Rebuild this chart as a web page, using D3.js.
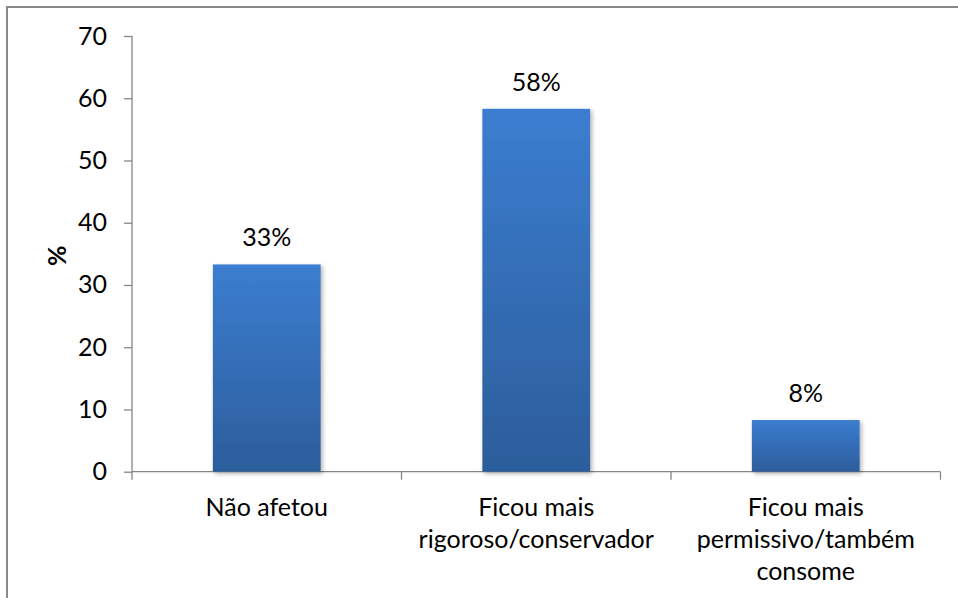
<!DOCTYPE html>
<html>
<head>
<meta charset="utf-8">
<script src="https://cdn.jsdelivr.net/npm/d3@7"></script>
<style>
  body { margin: 0; background: #fff; }
  text { font-family: Lato, "Open Sans", sans-serif; fill: #000; }
</style>
</head>
<body>
<div id="chart"></div>
<script>
var categories = [["Não afetou"], ["Ficou mais", "rigoroso/conservador"], ["Ficou mais", "permissivo/também", "consome"]];
var values = [33.3, 58.3, 8.3];
var valueLabels = ["33%", "58%", "8%"];
var yTicks = [0, 10, 20, 30, 40, 50, 60, 70];

var width = 958, height = 598;
var margin = { top: 36, left: 132, right: 17.5, bottom: 126.3 };
var fontSize = '25px';

var svg = d3.select('#chart')
    .append('svg')
    .attr('width', width)
    .attr('height', height);

var defs = svg.append('defs');
var grad = defs.append('linearGradient')
    .attr('id', 'barGrad')
    .attr('x1', 0).attr('y1', 0).attr('x2', 0).attr('y2', 1);
grad.append('stop').attr('offset', '0%').attr('stop-color', '#3b7dd0');
grad.append('stop').attr('offset', '100%').attr('stop-color', '#2c5d9b');

var shadow = defs.append('filter').attr('id', 'shadow')
    .attr('x', '-10%').attr('y', '-10%').attr('width', '130%').attr('height', '130%');
shadow.append('feDropShadow')
    .attr('dx', 2).attr('dy', 2).attr('stdDeviation', 2)
    .attr('flood-color', '#000').attr('flood-opacity', 0.3);

// outer frame (runs past the canvas on right/bottom)
svg.append('rect')
    .attr('x', 7).attr('y', 7)
    .attr('width', 1000).attr('height', 1000)
    .attr('fill', 'none')
    .attr('stroke', '#888')
    .attr('stroke-width', 2);

var x0 = margin.left, x1 = width - margin.right;
var yBottom = height - margin.bottom;

var xScale = d3.scaleBand()
    .domain(d3.range(categories.length))
    .range([x0, x1])
    .paddingInner(0.6)
    .paddingOuter(0.3);

var yScale = d3.scaleLinear()
    .domain([0, 70])
    .range([yBottom, margin.top]);

// y axis
var yAxis = d3.axisLeft(yScale)
    .tickValues(yTicks)
    .tickSize(8)
    .tickPadding(17)
    .tickFormat(d3.format('d'));

var gy = svg.append('g')
    .attr('transform', 'translate(' + x0 + ',0)')
    .call(yAxis);
gy.select('.domain').attr('stroke', '#868686').attr('stroke-width', 1.3)
    .attr('d', 'M0,' + margin.top + 'V' + yBottom);
gy.selectAll('.tick line').attr('stroke', '#868686').attr('stroke-width', 1.3);
gy.selectAll('.tick text')
    .style('font-size', fontSize)
    .style('font-family', 'Lato, sans-serif')
    .attr('fill', '#000');

// x axis line + category ticks
var boundaries = d3.range(categories.length + 1).map(function(i) {
    return x0 + i * (x1 - x0) / categories.length;
});
svg.append('line')
    .attr('x1', x0).attr('x2', x1)
    .attr('y1', yBottom).attr('y2', yBottom)
    .attr('stroke', '#868686').attr('stroke-width', 1.3);
svg.selectAll('.xtick')
    .data(boundaries)
    .enter()
    .append('line')
    .attr('class', 'xtick')
    .attr('x1', function(d) { return d; })
    .attr('x2', function(d) { return d; })
    .attr('y1', yBottom)
    .attr('y2', yBottom + 8)
    .attr('stroke', '#868686').attr('stroke-width', 1.3);

// bars
svg.selectAll('.bar')
    .data(values)
    .enter()
    .append('rect')
    .attr('class', 'bar')
    .attr('x', function(d, i) { return xScale(i); })
    .attr('y', function(d) { return yScale(d); })
    .attr('width', xScale.bandwidth())
    .attr('height', function(d) { return yBottom - yScale(d); })
    .attr('fill', 'url(#barGrad)')
    .attr('filter', 'url(#shadow)');

// value labels
svg.selectAll('.value-label')
    .data(values)
    .enter()
    .append('text')
    .attr('class', 'value-label')
    .attr('x', function(d, i) { return xScale(i) + xScale.bandwidth() / 2; })
    .attr('y', function(d) { return yScale(d) - 18; })
    .attr('text-anchor', 'middle')
    .style('font-size', fontSize)
    .text(function(d, i) { return valueLabels[i]; });

// category labels
var catLabels = svg.selectAll('.cat-label')
    .data(categories)
    .enter()
    .append('text')
    .attr('class', 'cat-label')
    .attr('text-anchor', 'middle')
    .style('font-size', fontSize);

catLabels.selectAll('tspan')
    .data(function(d, i) { return d.map(function(line) { return { line: line, i: i }; }); })
    .enter()
    .append('tspan')
    .attr('x', function(d) { return xScale(d.i) + xScale.bandwidth() / 2; })
    .attr('y', function(d, j) { return yBottom + 44 + j * 32; })
    .text(function(d) { return d.line; });

// y axis title
svg.append('text')
    .attr('transform', 'translate(66,' + ((margin.top + yBottom) / 2 + 2) + ') rotate(-90)')
    .attr('text-anchor', 'middle')
    .style('font-size', fontSize)
    .style('font-weight', 'bold')
    .text('%');
</script>
</body>
</html>
